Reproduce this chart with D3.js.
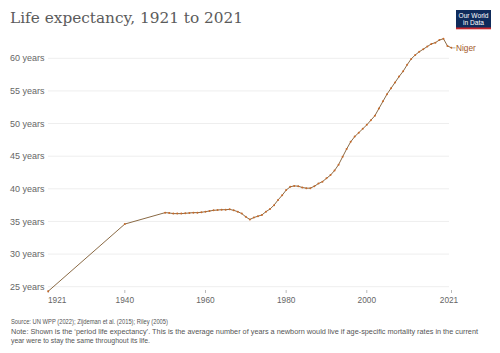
<!DOCTYPE html>
<html>
<head>
<meta charset="utf-8">
<title>Life expectancy, 1921 to 2021</title>
<script src="https://d3js.org/d3.v7.min.js"></script>
<style>
  body { margin: 0; background: #fff; }
  text { font-family: "Liberation Sans", Arial, sans-serif; }
</style>
</head>
<body>
<script>
const width = 500;
const height = 353;

// Niger, period life expectancy
const years = [1921, 1940, 1950, 1951, 1952, 1953, 1954, 1955, 1956, 1957, 1958, 1959,
  1960, 1961, 1962, 1963, 1964, 1965, 1966, 1967, 1968, 1969,
  1970, 1971, 1972, 1973, 1974, 1975, 1976, 1977, 1978, 1979,
  1980, 1981, 1982, 1983, 1984, 1985, 1986, 1987, 1988, 1989,
  1990, 1991, 1992, 1993, 1994, 1995, 1996, 1997, 1998, 1999,
  2000, 2001, 2002, 2003, 2004, 2005, 2006, 2007, 2008, 2009,
  2010, 2011, 2012, 2013, 2014, 2015, 2016, 2017, 2018, 2019,
  2020, 2021];
const lifeExp = [24.3, 34.6, 36.35, 36.3, 36.2, 36.2, 36.2, 36.25, 36.3, 36.35, 36.35, 36.4,
  36.5, 36.6, 36.7, 36.75, 36.8, 36.8, 36.85, 36.7, 36.5, 36.2,
  35.7, 35.3, 35.6, 35.8, 36.0, 36.5, 36.9, 37.5, 38.3, 39.0,
  39.8, 40.3, 40.45, 40.4, 40.2, 40.1, 40.1, 40.4, 40.8, 41.1,
  41.6, 42.1, 42.8, 43.7, 44.9, 46.1, 47.2, 48.0, 48.6, 49.2,
  49.8, 50.5, 51.2, 52.3, 53.4, 54.5, 55.4, 56.3, 57.2, 58.0,
  59.0, 59.9, 60.5, 61.0, 61.4, 61.8, 62.2, 62.4, 62.8, 63.0,
  61.9, 61.6];
const yTicks = [25, 30, 35, 40, 45, 50, 55, 60];
const xTicks = [1921, 1940, 1960, 1980, 2000, 2021];
const seriesName = "Niger";

const data = years.map((yr, i) => ({ year: yr, value: lifeExp[i] }));

const x = d3.scaleLinear().domain([1921, 2021]).range([48.2, 451.5]);
const y = d3.scaleLinear().domain([25, 60]).range([286.7, 58.3]);

const svg = d3.select("body").append("svg")
  .attr("width", width)
  .attr("height", height);

// title
svg.append("text")
  .attr("x", 10)
  .attr("y", 23)
  .attr("textLength", 233)
  .attr("lengthAdjust", "spacingAndGlyphs")
  .style("font-family", "'DejaVu Serif', 'Liberation Serif', serif")
  .style("font-weight", 300)
  .style("font-size", "15px")
  .style("fill", "#5b5b5b")
  .text("Life expectancy, 1921 to 2021");

// logo
const logo = svg.append("g").attr("transform", "translate(456,10)");
logo.append("rect").attr("width", 35).attr("height", 19).attr("fill", "#0f2b5b");
logo.append("rect").attr("y", 17.5).attr("width", 35).attr("height", 1.8).attr("fill", "#c5262c");
logo.append("text").attr("x", 17.5).attr("y", 8)
  .attr("text-anchor", "middle").style("font-size", "6.6px").style("fill", "#fff")
  .text("Our World");
logo.append("text").attr("x", 17.5).attr("y", 15)
  .attr("text-anchor", "middle").style("font-size", "6.6px").style("fill", "#fff")
  .text("in Data");

// grid + y labels
const grid = svg.append("g");
grid.selectAll("line")
  .data(yTicks).join("line")
  .attr("x1", 48).attr("x2", 449)
  .attr("y1", d => y(d)).attr("y2", d => y(d))
  .attr("stroke", "#eee")
  .attr("stroke-width", 1);
grid.selectAll("text")
  .data(yTicks).join("text")
  .attr("x", 10)
  .attr("y", d => y(d))
  .attr("dy", "0.35em")
  .style("font-size", "9px")
  .style("fill", "#666")
  .text(d => d + " years");

// x axis labels and ticks
const xa = svg.append("g");
xa.selectAll("line")
  .data(xTicks).join("line")
  .attr("x1", d => x(d)).attr("x2", d => x(d))
  .attr("y1", 290).attr("y2", 293)
  .attr("stroke", "#bbb");
xa.selectAll("text")
  .data(xTicks).join("text")
  .attr("x", d => d === 1921 ? 48 : (d === 2021 ? x(d) - 2.5 : x(d)))
  .attr("y", 303)
  .attr("text-anchor", d => d === 1921 ? "start" : "middle")
  .style("font-size", "8.3px")
  .style("fill", "#666")
  .text(d => d);

// line
const line = d3.line().x(d => x(d.year)).y(d => y(d.value));
svg.append("path")
  .datum(data)
  .attr("d", line)
  .attr("fill", "none")
  .attr("stroke", "#8a6a45")
  .attr("stroke-width", 1);
svg.append("g").selectAll("circle")
  .data(data).join("circle")
  .attr("cx", d => x(d.year))
  .attr("cy", d => y(d.value))
  .attr("r", 1)
  .attr("fill", "#c86a2a");

// series label
const last = data[data.length - 1];
svg.append("line")
  .attr("x1", x(last.year) + 1).attr("x2", x(last.year) + 4)
  .attr("y1", y(last.value)).attr("y2", y(last.value))
  .attr("stroke", "#999").attr("stroke-width", 0.8);
svg.append("text")
  .attr("x", x(last.year) + 4.5)
  .attr("y", y(last.value))
  .attr("dy", "0.35em")
  .style("font-size", "8.3px")
  .style("fill", "#a2581f")
  .text(seriesName);

// source & note
const notes = [
  "Source: UN WPP (2022); Zijdeman et al. (2015); Riley (2005)",
  "Note: Shown is the \u2018period life expectancy\u2019. This is the average number of years a newborn would live if age-specific mortality rates in the current",
  "year were to stay the same throughout its life."
];
svg.append("g").selectAll("text")
  .data(notes).join("text")
  .attr("x", 11)
  .attr("y", (d, i) => [324, 334, 342.5][i])
  .attr("textLength", (d, i) => [157, 467, 139][i])
  .attr("lengthAdjust", "spacingAndGlyphs")
  .style("font-size", "7px")
  .style("fill", "#555")
  .text(d => d);
</script>
</body>
</html>
